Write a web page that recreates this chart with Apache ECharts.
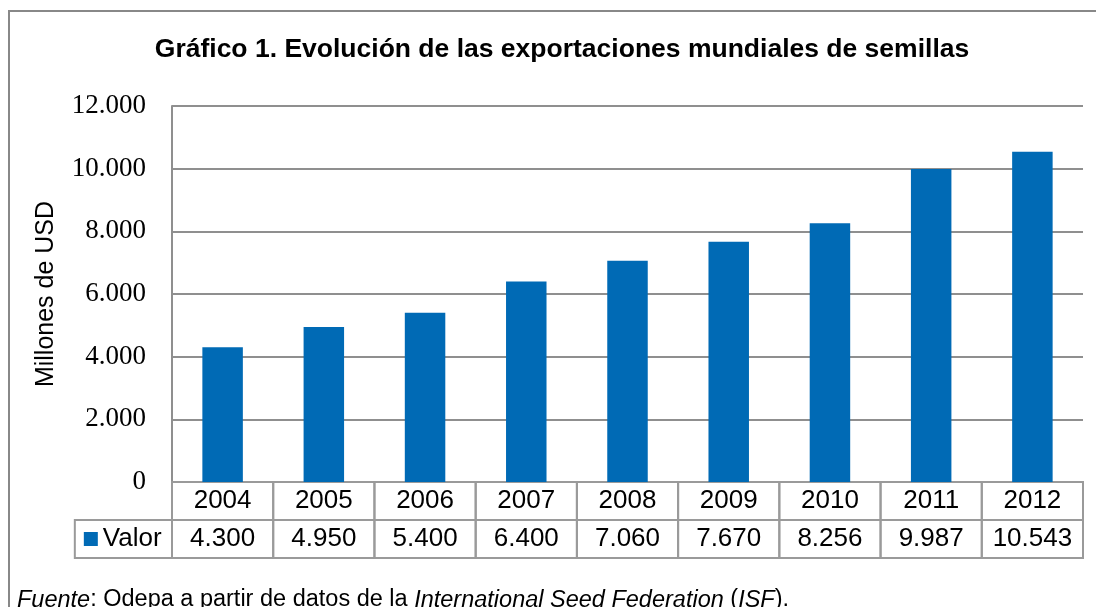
<!DOCTYPE html>
<html><head><meta charset="utf-8">
<script src="https://cdn.jsdelivr.net/npm/echarts@6/dist/echarts.min.js"></script>
<style>html,body{margin:0;padding:0;background:#fff}#c{width:1096px;height:607px}</style>
</head><body><div id="c"></div>
<script>
const years = ['2004','2005','2006','2007','2008','2009','2010','2011','2012'];
const valor = [4300, 4950, 5400, 6400, 7060, 7670, 8256, 9987, 10543];
const yTicks = {min: 0, max: 12000, interval: 2000};
const seriesName = 'Valor';
const titleText = 'Gráfico 1. Evolución de las exportaciones mundiales de semillas';
const yName = 'Millones de USD';

const BLUE = '#006AB5';
const GRID = '#8f8f8f';
const fmt = v => String(v).replace(/\B(?=(\d{3})+(?!\d))/g, '.');

const cells = [];
years.forEach((y, i) => { cells.push([i, 0]); cells.push([i, 1]); });

const chart = echarts.init(document.getElementById('c'), null, {renderer: 'canvas'});
chart.setOption({
  animation: false,
  backgroundColor: '#fff',
  title: [{
    text: titleText, left: 557, top: 31, textAlign: 'center',
    textStyle: {fontFamily: 'Liberation Sans', fontWeight: 'bold', fontSize: 26.5, color: '#000'}
  }, {
    text: '{n|Fuente}{m|: Odepa a partir de datos de la }{n|International Seed Federation}{m| (}{n|ISF}{m|).}',
    left: 12, top: 583,
    textStyle: {fontFamily: 'Liberation Sans', fontSize: 23.5, fontWeight: 'normal', color: '#000',
      rich: {
        n: {fontFamily: 'Liberation Sans', fontSize: 23.5, fontWeight: 'normal', fontStyle: 'italic', color: '#000'},
        m: {fontFamily: 'Liberation Sans', fontSize: 23.5, fontWeight: 'normal', color: '#000'}
      }}
  }],
  graphic: [{
    type: 'rect', shape: {x: 9, y: 11, width: 1110, height: 640},
    style: {fill: 'none', stroke: '#888', lineWidth: 2}, z: 0
  }],
  grid: [
    {left: 172, right: 13, top: 106, bottom: 125},
    {left: 172, right: 13, top: 482, height: 76}
  ],
  xAxis: [{
    type: 'category', data: years, gridIndex: 0,
    axisLine: {show: false}, axisTick: {show: false}, axisLabel: {show: false}
  }, {
    type: 'category', data: years, gridIndex: 1, show: false
  }],
  yAxis: [{
    type: 'value', gridIndex: 0, min: yTicks.min, max: yTicks.max, interval: yTicks.interval,
    name: yName, nameLocation: 'middle', nameGap: 113, nameRotate: 90,
    nameTextStyle: {fontFamily: 'Liberation Sans', fontSize: 25, color: '#000'},
    axisLine: {show: true, lineStyle: {color: GRID, width: 2}},
    axisTick: {show: false},
    axisLabel: {formatter: v => fmt(v), fontFamily: 'Liberation Serif', fontSize: 27, color: '#000', margin: 26},
    splitLine: {show: true, lineStyle: {color: GRID, width: 2}}
  }, {
    type: 'category', data: ['year', 'value'], gridIndex: 1, inverse: true, show: false
  }],
  series: [{
    name: seriesName, type: 'bar', data: valor, xAxisIndex: 0, yAxisIndex: 0,
    barCategoryGap: '60%', itemStyle: {color: BLUE}
  }, {
    type: 'custom', xAxisIndex: 1, yAxisIndex: 1, data: cells, clip: false,
    renderItem: function (params, api) {
      const i = api.value(0), row = api.value(1);
      const c = api.coord([i, row]);
      const s = api.size([1, 1]);
      const x0 = c[0] - s[0] / 2, y0 = c[1] - s[1] / 2;
      const txt = row === 0 ? years[i] : fmt(valor[i]);
      const children = [{
        type: 'rect', shape: {x: x0, y: y0, width: s[0], height: s[1]},
        style: {fill: 'none', stroke: '#9a9a9a', lineWidth: 2}
      }, {
        type: 'text', style: {x: c[0], y: c[1], text: txt, align: 'center', verticalAlign: 'middle',
          font: '26px "Liberation Sans"', fill: '#000'}
      }];
      if (i === 0 && row === 1) {
        const w = s[0] * 0.96;
        children.push({
          type: 'rect', shape: {x: x0 - w, y: y0, width: w, height: s[1]},
          style: {fill: 'none', stroke: '#9a9a9a', lineWidth: 2}
        }, {
          type: 'rect', shape: {x: x0 - w + 9, y: c[1] - 7, width: 14, height: 14},
          style: {fill: BLUE}
        }, {
          type: 'text', style: {x: x0 - w + 28, y: c[1], text: seriesName, align: 'left', verticalAlign: 'middle',
            font: '26px "Liberation Sans"', fill: '#000'}
        });
      }
      return {type: 'group', children: children};
    }
  }]
});
</script></body></html>
